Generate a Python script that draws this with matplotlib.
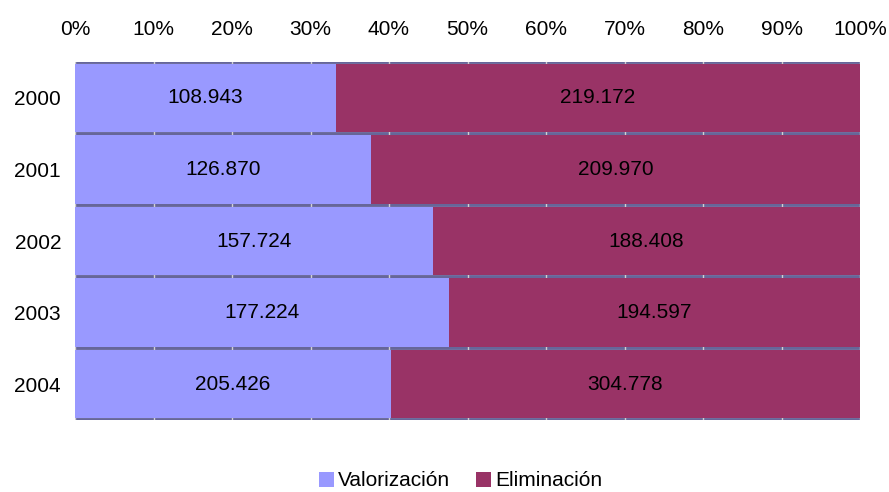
import matplotlib.pyplot as plt
import numpy as np

plt.rcParams['font.family'] = ['Liberation Sans', 'DejaVu Sans']

years = ['2000', '2001', '2002', '2003', '2004']
valorizacion = [108943, 126870, 157724, 177224, 205426]
eliminacion = [219172, 209970, 188408, 194597, 304778]
labels_val = ['108.943', '126.870', '157.724', '177.224', '205.426']
labels_eli = ['219.172', '209.970', '188.408', '194.597', '304.778']

val = np.array(valorizacion, dtype=float)
eli = np.array(eliminacion, dtype=float)
tot = val + eli
pv = val / tot * 100
pe = eli / tot * 100

fig = plt.figure(figsize=(8.89, 4.92), dpi=100)
ax = fig.add_axes([75 / 889, 1 - 420 / 492, 785 / 889, 358 / 492])

y = np.arange(len(years))
fs = 15

# dark separators between bars, light gridlines show through the gaps
for b in np.arange(len(years) + 1) - 0.5:
    ax.axhline(b, color='#666699', lw=2.8, zorder=1)
for g in range(0, 101, 10):
    ax.axvline(g, color='#d0d0d0', lw=1, zorder=2)

ax.barh(y, pv, height=0.955, color='#9999ff', zorder=3, label='Valorización')
ax.barh(y, pe, left=pv, height=0.955, color='#993366', zorder=3, label='Eliminación')

for i in range(len(years)):
    ax.text(pv[i] / 2, y[i], labels_val[i], ha='center', va='center', fontsize=fs, zorder=4)
    ax.text(pv[i] + pe[i] / 2, y[i], labels_eli[i], ha='center', va='center', fontsize=fs, zorder=4)

ax.set_xlim(0, 100)
ax.set_ylim(len(years) - 0.5, -0.5)
ax.set_xticks(range(0, 101, 10))
ax.set_xticklabels([f'{v}%' for v in range(0, 101, 10)], fontsize=fs)
ax.set_yticks(y)
ax.set_yticklabels(years, fontsize=fs)
ax.xaxis.tick_top()
ax.tick_params(axis='x', length=0, pad=16.5)
ax.tick_params(axis='y', length=0, pad=10)
for s in ax.spines.values():
    s.set_visible(False)

fig.legend(loc='center', bbox_to_anchor=(0.518, 1 - 481 / 492), ncol=2, frameon=False,
           fontsize=fs, handlelength=0.75, handleheight=0.75, handletextpad=0.2,
           columnspacing=1.2)

fig.savefig('out.png', dpi=100)
